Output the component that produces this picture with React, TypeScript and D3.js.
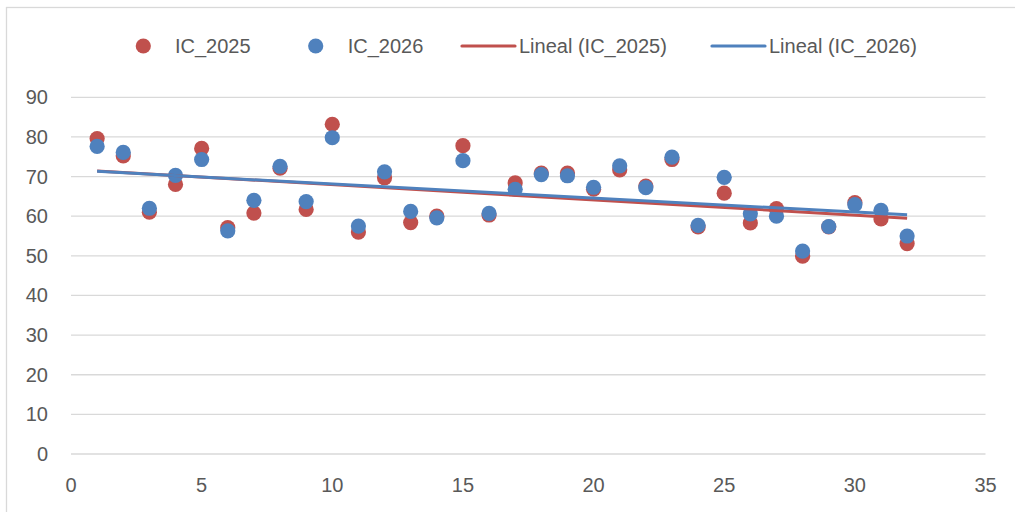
import React from "react";
import * as d3 from "d3";

const xValues: number[] = Array.from({ length: 32 }, (_, i) => i + 1);
const ic2025: number[] = [79.6, 75.2, 61.0, 68.0, 77.1, 57.1, 60.8, 72.1, 61.7, 83.2, 56.0, 69.7, 58.4, 60.0, 77.8, 60.3, 68.4, 70.9, 70.9, 66.8, 71.7, 67.6, 74.3, 57.3, 65.8, 58.3, 61.9, 49.9, 57.3, 63.4, 59.3, 53.1];
const ic2026: number[] = [77.6, 76.1, 62.0, 70.3, 74.3, 56.3, 64.0, 72.6, 63.7, 79.8, 57.5, 71.2, 61.2, 59.6, 74.0, 60.7, 66.8, 70.5, 70.2, 67.3, 72.7, 67.2, 74.9, 57.7, 69.8, 60.6, 60.0, 51.2, 57.4, 62.9, 61.5, 55.0];
const xTicks: number[] = [0, 5, 10, 15, 20, 25, 30, 35];
const yTicks: number[] = [0, 10, 20, 30, 40, 50, 60, 70, 80, 90];
const seriesNames: string[] = ["IC_2025", "IC_2026"];
const trendNames: string[] = ["Lineal (IC_2025)", "Lineal (IC_2026)"];

const RED = "#C0504D";
const BLUE = "#4F81BD";
const TEXT = "#595959";
const GRID = "#D9D9D9";
const FONT = "'Liberation Sans', Arial, sans-serif";

function linReg(xs: number[], ys: number[]) {
  const n = xs.length;
  const mx = d3.mean(xs)!;
  const my = d3.mean(ys)!;
  let num = 0, den = 0;
  for (let i = 0; i < n; i++) {
    num += (xs[i] - mx) * (ys[i] - my);
    den += (xs[i] - mx) * (xs[i] - mx);
  }
  const b = num / den;
  const a = my - b * mx;
  return (x: number) => a + b * x;
}

export default function App() {
  const W = 1015, H = 512;
  const x = d3.scaleLinear().domain([0, 35]).range([71, 985.5]);
  const y = d3.scaleLinear().domain([0, 90]).range([454, 97.3]);
  const line = d3.line<[number, number]>().x(d => x(d[0])).y(d => y(d[1]));
  const xmin = d3.min(xValues)!, xmax = d3.max(xValues)!;
  const f25 = linReg(xValues, ic2025);
  const f26 = linReg(xValues, ic2026);
  const t25: [number, number][] = [[xmin, f25(xmin)], [xmax, f25(xmax)]];
  const t26: [number, number][] = [[xmin, f26(xmin)], [xmax, f26(xmax)]];
  const fs = 20;
  const legendY = 46;

  return (
    <svg width={W} height={H} style={{ position: "absolute", left: 0, top: 0, display: "block" }} fontFamily={FONT}>
      <rect x={0} y={0} width={W} height={H} fill="#fff" />
      <rect x={6.5} y={7.5} width={W + 20} height={H + 20} fill="none" stroke={GRID} strokeWidth={1.3} />
      {yTicks.map(t => (
        <g key={"y" + t}>
          <line x1={71} x2={985.5} y1={y(t)} y2={y(t)} stroke={GRID} strokeWidth={1.3} />
          <text x={48} y={y(t)} dy="0.35em" textAnchor="end" fontSize={fs} fill={TEXT}>{t}</text>
        </g>
      ))}
      {xTicks.map(t => (
        <text key={"x" + t} x={x(t)} y={485} dy="0.35em" textAnchor="middle" fontSize={fs} fill={TEXT}>{t}</text>
      ))}
      {xValues.map((v, i) => (
        <circle key={"r" + i} cx={x(v)} cy={y(ic2025[i])} r={7.6} fill={RED} />
      ))}
      {xValues.map((v, i) => (
        <circle key={"b" + i} cx={x(v)} cy={y(ic2026[i])} r={7.6} fill={BLUE} />
      ))}
      <path d={line(t25)!} stroke={RED} strokeWidth={3} fill="none" />
      <path d={line(t26)!} stroke={BLUE} strokeWidth={3} fill="none" />
      {/* legend */}
      <circle cx={143.3} cy={legendY} r={7.6} fill={RED} />
      <text x={175} y={legendY} dy="0.35em" fontSize={fs} fill={TEXT}>{seriesNames[0]}</text>
      <circle cx={315.7} cy={legendY} r={7.6} fill={BLUE} />
      <text x={347.7} y={legendY} dy="0.35em" fontSize={fs} fill={TEXT}>{seriesNames[1]}</text>
      <line x1={462} x2={515} y1={legendY} y2={legendY} stroke={RED} strokeWidth={3.2} strokeLinecap="round" />
      <text x={519} y={legendY} dy="0.35em" fontSize={fs} fill={TEXT}>{trendNames[0]}</text>
      <line x1={712} x2={765} y1={legendY} y2={legendY} stroke={BLUE} strokeWidth={3.2} strokeLinecap="round" />
      <text x={769} y={legendY} dy="0.35em" fontSize={fs} fill={TEXT}>{trendNames[1]}</text>
    </svg>
  );
}
